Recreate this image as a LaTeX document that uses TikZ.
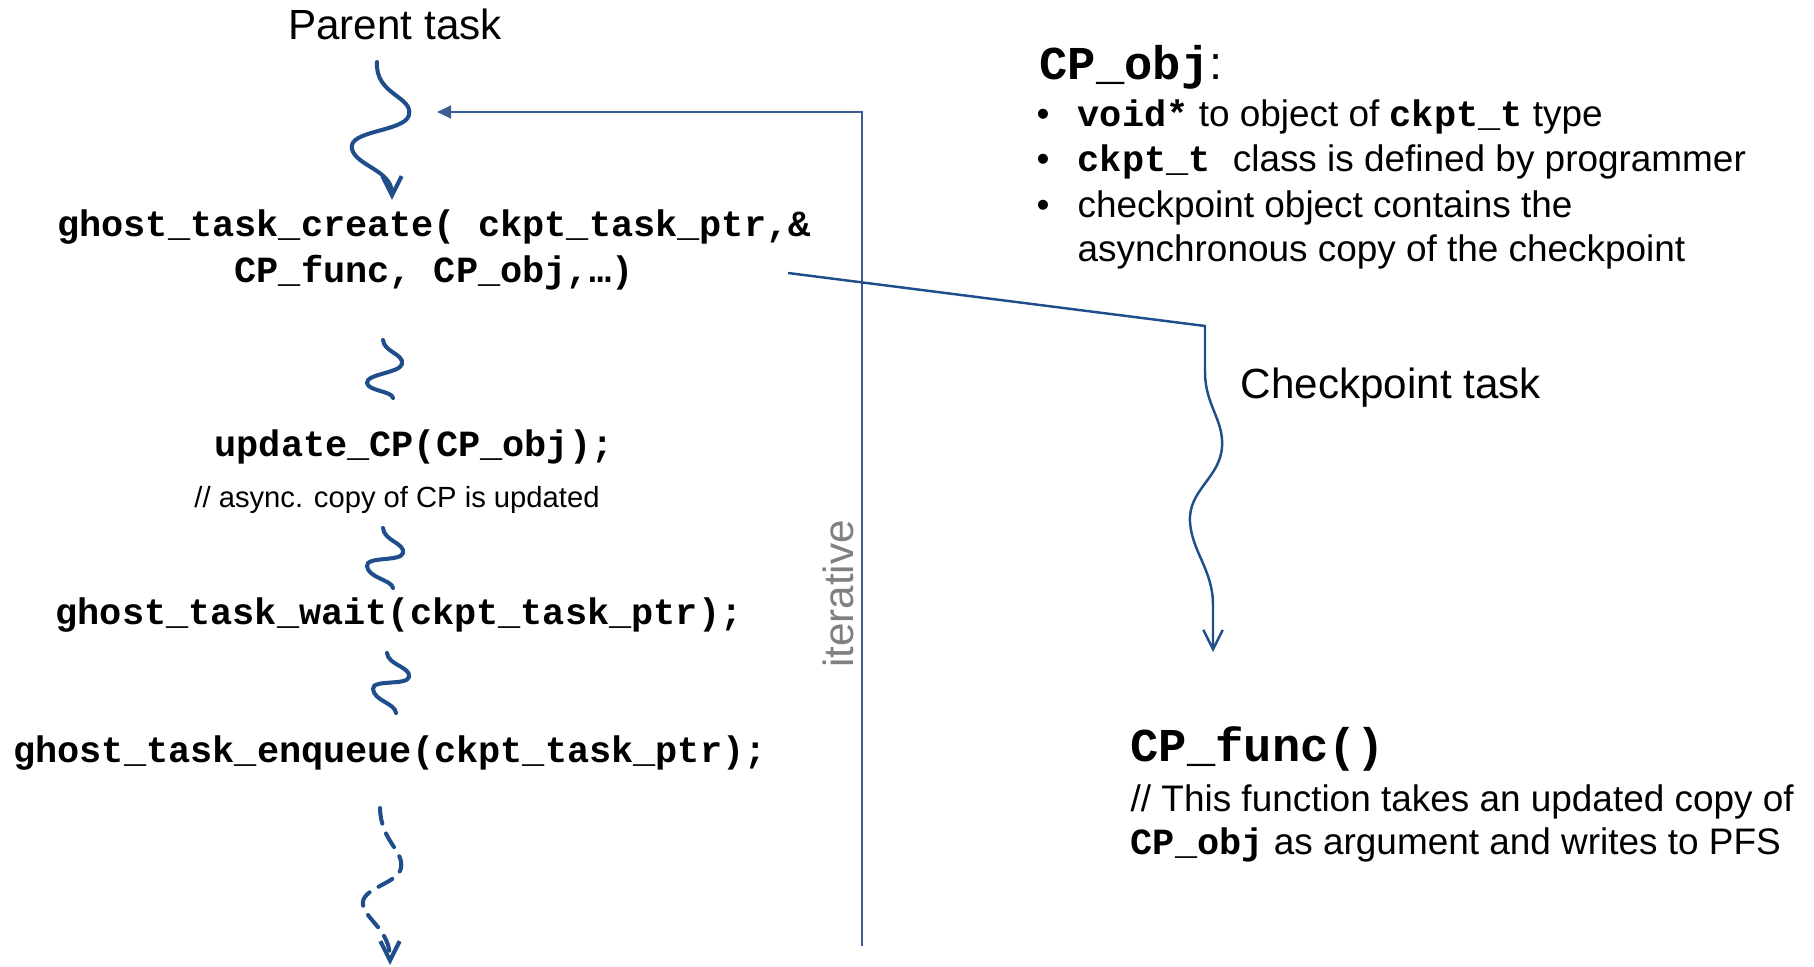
\documentclass[tikz,border=0pt]{standalone}
\usepackage{fontspec}
\setmainfont{Liberation Sans}
\setmonofont{Liberation Mono}
\usetikzlibrary{arrows.meta}
\definecolor{sq}{RGB}{31,78,138}
\definecolor{fb}{RGB}{58,94,148}
\definecolor{itgray}{RGB}{128,128,128}
\begin{document}
\begin{tikzpicture}[x=0.01cm,y=-0.01cm,
  code/.style={font=\fontsize{10.5}{12.6}\selectfont\ttfamily\bfseries, inner sep=0pt, anchor=base},
  big/.style={font=\fontsize{12}{14}\selectfont, inner sep=0pt},
  txt/.style={font=\fontsize{10.5}{13}\selectfont, inner sep=0pt, anchor=base west},
  small/.style={font=\fontsize{8.3}{10}\selectfont, inner sep=0pt, anchor=base},
  head/.style={font=\fontsize{13.4}{16}\selectfont, inner sep=0pt, anchor=base west},
  wave/.style={draw=sq, line width=1.15pt, line cap=round},
  thinwave/.style={draw=sq, line width=0.7pt},
  vtip/.style={-{Straight Barb[length=5.5pt,width=5.5pt]}},
  fbline/.style={draw=fb, line width=0.7pt},
  fbtip/.style={-{Triangle[length=4pt,width=3.6pt]}},
]
\useasboundingbox (0,0) rectangle (1814,967);

% texts, left column
\node[big, anchor=base] (parent) at (395,40) {Parent task};
\node[code] (create1) at (434,237) {ghost\_task\_create( ckpt\_task\_ptr,\&};
\node[code] (create2) at (434,283) {CP\_func, CP\_obj,…)};
\node[code] (update) at (414,457) {update\_CP(CP\_obj);};
\node[small] (asynccmt) at (397,508) {// async. copy of CP is updated};
\node[code] (wait) at (399,625) {ghost\_task\_wait(ckpt\_task\_ptr);};
\node[code] (enqueue) at (390,763) {ghost\_task\_enqueue(ckpt\_task\_ptr);};

% iterative
\node[big, rotate=90, anchor=south, text=itgray] (iter) at (855,594) {iterative};

% right column texts
\node[head] (cpobjhead) at (1039,80) {\ttfamily\bfseries CP\_obj\normalfont\fontsize{13.4}{16}\selectfont:};
\node[txt] (b1) at (1036,127) {\makebox[0.41cm][l]{•}\texttt{\bfseries void*} to object of \texttt{\bfseries ckpt\_t} type};
\node[txt] (b2) at (1036,172) {\makebox[0.41cm][l]{•}\texttt{\bfseries ckpt\_t\ }class is defined by programmer};
\node[txt] (b3) at (1036,218) {\makebox[0.41cm][l]{•}checkpoint object contains the};
\node[txt] (b4) at (1077,262) {asynchronous copy of the checkpoint};

\node[big, anchor=base west] (cptask) at (1240,399) {Checkpoint task};

\node[head] (cpfunc) at (1130,762) {\ttfamily\bfseries CP\_func()};
\node[txt] (cf1) at (1130,812) {// This function takes an updated copy of};
\node[txt] (cf2) at (1130,855) {\texttt{\bfseries CP\_obj} as argument and writes to PFS};

% squiggles of the parent task
\coordinate (s1a) at (377,62);  \coordinate (s1b) at (392,200);
\draw[wave, vtip] (s1a) .. controls (375,95) and (413,96) .. (409,115)
   .. controls (405,132) and (347,130) .. (352,149)
   .. controls (356,166) and (392,170) .. (s1b);

\coordinate (s2a) at (383,340); \coordinate (s2b) at (393,398);
\draw[wave] (s2a) .. controls (384,352) and (404,354) .. (402,364)
   .. controls (400,373) and (366,374) .. (367,383)
   .. controls (368,391) and (392,391) .. (s2b);

\coordinate (s3a) at (383,528); \coordinate (s3b) at (393,588);
\draw[wave] (s3a) .. controls (384,541) and (405,543) .. (403,553)
   .. controls (401,562) and (366,556) .. (367,566)
   .. controls (368,578) and (392,580) .. (s3b);

\coordinate (s4a) at (387,653); \coordinate (s4b) at (396,713);
\draw[wave] (s4a) .. controls (388,665) and (411,667) .. (409,677)
   .. controls (407,686) and (372,679) .. (373,689)
   .. controls (374,701) and (395,703) .. (s4b);

\coordinate (s5a) at (380,808); \coordinate (s5b) at (390,965);
\draw[wave, dash pattern=on 4.5pt off 3pt, vtip] (s5a)
   .. controls (381,842) and (404,850) .. (401,868)
   .. controls (398,884) and (360,888) .. (363,905)
   .. controls (366,920) and (390,930) .. (s5b);

% iterative feedback line
\coordinate (fbbot) at (862,946);
\coordinate (fbtop) at (862,112);
\coordinate (fbtip) at (437,112);
\draw[fbline, fbtip] (fbbot) -- (fbtop) -- (fbtip);

% checkpoint task spawn
\coordinate (dstart) at (788,273);
\coordinate (dcorner) at (1205,326);
\coordinate (cpend) at (1213,652);
\draw[thinwave, vtip] (dstart) -- (dcorner) -- (1205,372)
   .. controls (1205,405) and (1224,420) .. (1222,447)
   .. controls (1220,478) and (1188,490) .. (1190,522)
   .. controls (1192,552) and (1213,570) .. (1213,605) -- (cpend);
\end{tikzpicture}
\end{document}
